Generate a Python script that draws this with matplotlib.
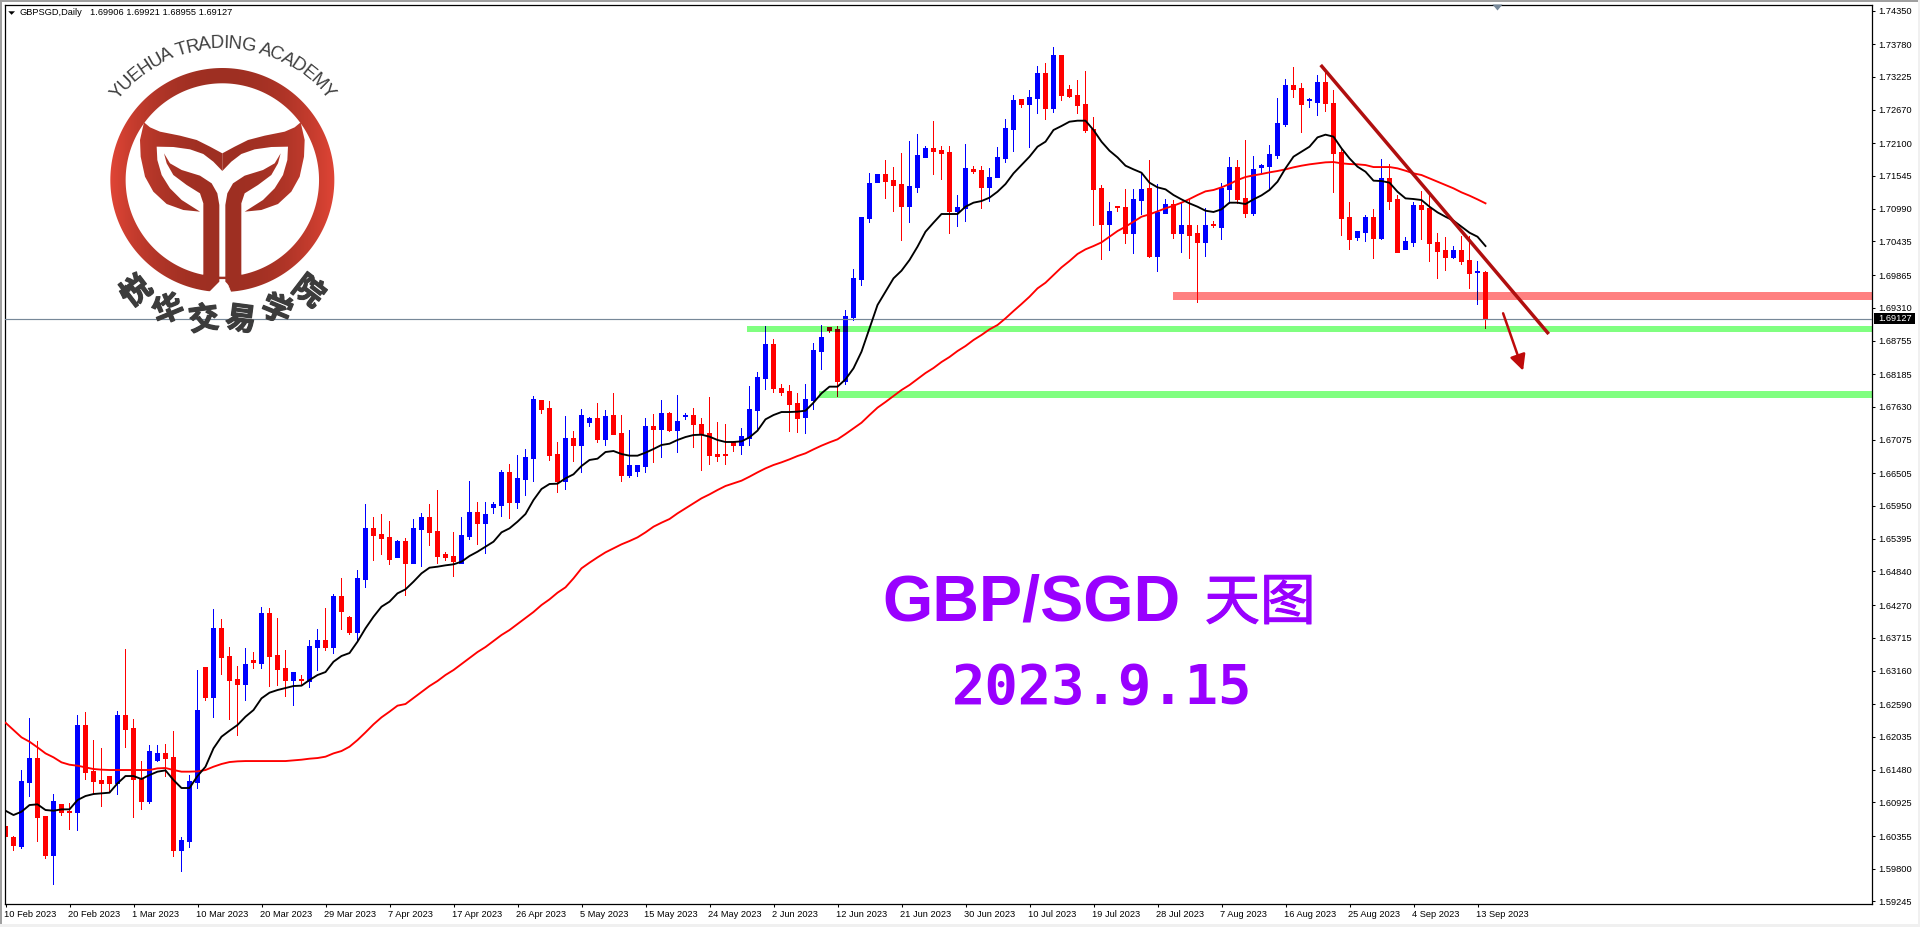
import numpy as np
import matplotlib
matplotlib.use("Agg")
import matplotlib.pyplot as plt
import matplotlib.patheffects as pe
from matplotlib.patches import Polygon, Rectangle
from matplotlib.font_manager import FontProperties, findfont, get_font
from matplotlib.path import Path
from matplotlib.patches import PathPatch

opens = [1.60524,1.60338,1.60185,1.61270,1.61677,1.60694,1.60033,1.60897,1.60779,1.60762,
1.62237,1.61457,1.61304,1.61372,1.61237,1.62406,1.62186,1.61338,1.60948,1.61643,
1.61762,1.61694,1.60118,1.60270,1.61270,1.63220,1.62711,1.63881,1.63390,1.63017,
1.62932,1.63339,1.63288,1.64119,1.63407,1.63203,1.63000,1.63017,1.62983,1.63559,
1.63678,1.63559,1.64424,1.64068,1.63813,1.64712,1.65560,1.65475,1.65424,1.65085,
1.65356,1.64983,1.65543,1.65763,1.65526,1.65136,1.65102,1.64983,1.65441,1.65848,
1.65661,1.65916,1.65950,1.66526,1.66001,1.66407,1.66763,1.67730,1.67611,1.66831,
1.66373,1.67102,1.66967,1.67357,1.67425,1.67085,1.67492,1.67187,1.66475,1.66543,
1.66611,1.67306,1.67255,1.67526,1.67238,1.67475,1.67492,1.67340,1.67187,1.66831,
1.66814,1.67018,1.66967,1.67102,1.67577,1.68103,1.68696,1.67950,1.67899,1.67696,
1.67442,1.67730,1.68577,1.68984,1.68950,1.68052,1.69137,1.69798,1.70832,1.71442,
1.71578,1.71476,1.71408,1.71035,1.71357,1.71866,1.72019,1.71985,1.71951,1.70934,
1.71001,1.71662,1.71646,1.71357,1.71527,1.71849,1.72341,1.72849,1.72764,1.72866,
1.73290,1.72697,1.73595,1.73019,1.72917,1.72748,1.72341,1.71340,1.70730,1.71035,
1.71018,1.70561,1.71137,1.71340,1.70188,1.70917,1.71069,1.70561,1.70713,1.70578,
1.70425,1.70730,1.70679,1.71323,1.71696,1.71171,1.70917,1.71680,1.71713,1.71900,
1.72425,1.73087,1.73036,1.72827,1.72798,1.73137,1.72781,1.71951,1.70849,1.70510,
1.70578,1.70849,1.70493,1.71510,1.71154,1.70306,1.70425,1.71052,1.71001,1.70425,
1.70289,1.70171,1.70289,1.70120,1.69910,1.69906]
highs = [1.60965,1.60355,1.61463,1.62355,1.61960,1.60694,1.61067,1.60897,1.60914,1.62406,
1.62457,1.61982,1.61847,1.61372,1.62474,1.63525,1.62338,1.61626,1.61898,1.61898,
1.61915,1.62135,1.60338,1.61389,1.63169,1.63220,1.64203,1.64034,1.63559,1.63237,
1.63542,1.63474,1.64237,1.64220,1.64051,1.63508,1.63135,1.63084,1.63678,1.63864,
1.64220,1.64458,1.64729,1.64085,1.64864,1.65967,1.65763,1.65814,1.65695,1.65373,
1.65407,1.65729,1.65831,1.65967,1.66221,1.65170,1.65509,1.65763,1.66373,1.66001,
1.66017,1.66017,1.66560,1.66645,1.66814,1.66916,1.67798,1.67730,1.67713,1.67018,
1.67475,1.67221,1.67594,1.67442,1.67696,1.67577,1.67865,1.67492,1.67238,1.66628,
1.67425,1.67509,1.67730,1.67543,1.67815,1.67526,1.67611,1.67425,1.67781,1.67357,
1.67340,1.67035,1.67272,1.67984,1.68221,1.69001,1.68781,1.68018,1.68001,1.67865,
1.68018,1.68713,1.69018,1.68984,1.69001,1.69256,1.69967,1.70849,1.71595,1.71578,
1.71815,1.71696,1.71934,1.72137,1.72256,1.72052,1.72476,1.72052,1.72052,1.71222,
1.72086,1.71713,1.71713,1.71679,1.72035,1.72510,1.72917,1.72849,1.73002,1.73409,
1.73460,1.73731,1.73595,1.73087,1.73171,1.73324,1.72544,1.71391,1.71103,1.71035,
1.71307,1.71323,1.71595,1.71815,1.71408,1.71154,1.71137,1.71086,1.71137,1.70713,
1.71001,1.70781,1.71425,1.71866,1.71815,1.72154,1.71883,1.71747,1.72069,1.72866,
1.73188,1.73392,1.73104,1.72866,1.73256,1.73307,1.73002,1.72002,1.71103,1.70611,
1.70883,1.70984,1.71832,1.71747,1.71222,1.70510,1.71103,1.71290,1.71239,1.70578,
1.70510,1.70357,1.70527,1.70527,1.70103,1.69921]
lows = [1.60061,1.60118,1.60140,1.61033,1.60270,1.59971,1.59541,1.60711,1.60474,1.60457,
1.61321,1.61067,1.60847,1.61101,1.61067,1.61864,1.60677,1.60813,1.60914,1.61626,
1.61372,1.60016,1.59762,1.60152,1.61169,1.62644,1.62372,1.63101,1.62322,1.62067,
1.62644,1.63203,1.63203,1.62898,1.62915,1.62728,1.62576,1.62932,1.62881,1.63169,
1.63508,1.63457,1.63864,1.63779,1.63678,1.64560,1.65034,1.65136,1.64966,1.65085,
1.64441,1.64983,1.64916,1.65272,1.64983,1.65034,1.64763,1.64983,1.65390,1.65289,
1.65153,1.65831,1.65780,1.65746,1.65899,1.66136,1.66357,1.67526,1.66713,1.66187,
1.66238,1.66696,1.66526,1.67306,1.67018,1.66967,1.67170,1.66373,1.66441,1.66458,
1.66526,1.66679,1.66780,1.67221,1.66865,1.67408,1.66950,1.66560,1.66645,1.66696,
1.66645,1.66882,1.66831,1.66967,1.67238,1.67933,1.67882,1.67815,1.67221,1.67204,
1.67187,1.67594,1.68272,1.68883,1.67798,1.68018,1.69103,1.69696,1.70764,1.71442,
1.71171,1.70934,1.70459,1.70764,1.71273,1.71866,1.71578,1.71493,1.70561,1.70696,
1.70781,1.71595,1.71001,1.71120,1.71527,1.71781,1.71968,1.72714,1.72019,1.72612,
1.72510,1.72629,1.72832,1.72883,1.72612,1.72290,1.70713,1.70137,1.70289,1.70950,
1.70408,1.70238,1.70900,1.70171,1.69933,1.70917,1.70493,1.70255,1.70154,1.69408,
1.70188,1.70679,1.70476,1.71086,1.71086,1.70849,1.70883,1.71612,1.71307,1.71849,
1.72375,1.72883,1.72290,1.72714,1.72578,1.72646,1.71273,1.70544,1.70306,1.70459,
1.70442,1.70154,1.70476,1.70968,1.70255,1.70306,1.70357,1.70476,1.70103,1.69815,
1.69950,1.70154,1.70052,1.69645,1.69374,1.68955]
closes = [1.60344,1.60202,1.61287,1.61677,1.60677,1.60033,1.60948,1.60762,1.60762,1.62237,
1.61440,1.61287,1.61237,1.61237,1.62406,1.62169,1.61321,1.60948,1.61796,1.61762,
1.61677,1.60118,1.60287,1.61287,1.62491,1.62711,1.63881,1.63373,1.63000,1.62932,
1.63271,1.63305,1.64119,1.63390,1.63186,1.63000,1.63135,1.63000,1.63576,1.63678,
1.63559,1.64424,1.64169,1.63813,1.64729,1.65560,1.65458,1.65407,1.65051,1.65356,
1.64983,1.65560,1.65763,1.65509,1.65102,1.65085,1.65017,1.65458,1.65848,1.65661,
1.65814,1.65967,1.66526,1.66001,1.66424,1.66780,1.67747,1.67594,1.66814,1.66373,
1.67102,1.66967,1.67492,1.67425,1.67085,1.67475,1.67170,1.66475,1.66628,1.66628,
1.67306,1.67255,1.67526,1.67238,1.67374,1.67481,1.67323,1.67170,1.66814,1.66797,
1.66803,1.66967,1.67136,1.67594,1.68120,1.68696,1.67950,1.67882,1.67679,1.67425,
1.67747,1.68594,1.68798,1.68933,1.68052,1.69154,1.69815,1.70849,1.71425,1.71578,
1.71459,1.71391,1.71035,1.71374,1.71900,1.72019,1.71968,1.71934,1.70934,1.71018,
1.71679,1.71629,1.71357,1.71527,1.71866,1.72358,1.72832,1.72764,1.72883,1.73290,
1.72697,1.73595,1.72917,1.72900,1.72731,1.72324,1.71323,1.70730,1.70950,1.71018,
1.70561,1.71154,1.71323,1.70188,1.70934,1.71069,1.70561,1.70713,1.70544,1.70425,
1.70713,1.70707,1.71340,1.71696,1.71154,1.70917,1.71662,1.71730,1.71917,1.72442,
1.73087,1.73019,1.72748,1.72832,1.73137,1.72765,1.71934,1.70832,1.70476,1.70595,
1.70849,1.70493,1.71510,1.71120,1.70255,1.70442,1.71052,1.70984,1.70408,1.70272,
1.70171,1.70289,1.70103,1.69899,1.69916,1.69127]

ma_black = [1.60784,1.60711,1.60767,1.60880,1.60892,1.60796,1.60784,1.60807,1.60807,1.60965,
1.61033,1.61067,1.61078,1.61090,1.61248,1.61372,1.61372,1.61321,1.61389,1.61446,
1.61468,1.61304,1.61169,1.61169,1.61372,1.61530,1.61841,1.62039,1.62141,1.62237,
1.62378,1.62491,1.62689,1.62785,1.62830,1.62864,1.62898,1.62904,1.63000,1.63084,
1.63135,1.63310,1.63407,1.63457,1.63650,1.63876,1.64073,1.64243,1.64328,1.64469,
1.64537,1.64667,1.64808,1.64904,1.64921,1.64944,1.64961,1.65006,1.65102,1.65175,
1.65260,1.65345,1.65503,1.65571,1.65684,1.65814,1.66051,1.66238,1.66323,1.66328,
1.66419,1.66487,1.66628,1.66730,1.66752,1.66865,1.66882,1.66831,1.66803,1.66803,
1.66854,1.66916,1.66984,1.67006,1.67069,1.67119,1.67153,1.67159,1.67125,1.67069,
1.67035,1.67035,1.67046,1.67114,1.67227,1.67419,1.67492,1.67543,1.67543,1.67549,
1.67566,1.67701,1.67860,1.67973,1.67973,1.68097,1.68284,1.68566,1.68962,1.69357,
1.69583,1.69809,1.69939,1.70120,1.70346,1.70600,1.70753,1.70900,1.70900,1.70900,
1.71024,1.71092,1.71120,1.71177,1.71278,1.71408,1.71589,1.71730,1.71872,1.72041,
1.72126,1.72324,1.72392,1.72465,1.72482,1.72482,1.72324,1.72126,1.71973,1.71860,
1.71719,1.71657,1.71600,1.71431,1.71352,1.71318,1.71222,1.71148,1.71080,1.71024,
1.70956,1.70934,1.70979,1.71092,1.71092,1.71069,1.71148,1.71216,1.71307,1.71448,
1.71674,1.71872,1.71956,1.72041,1.72199,1.72245,1.72211,1.72013,1.71843,1.71702,
1.71617,1.71465,1.71459,1.71431,1.71278,1.71165,1.71154,1.71137,1.71024,1.70928,
1.70854,1.70787,1.70685,1.70583,1.70515,1.70357]

ma_red = [1.62276,1.62152,1.62028,1.61954,1.61858,1.61756,1.61689,1.61604,1.61564,1.61547,
1.61519,1.61491,1.61480,1.61474,1.61474,1.61474,1.61474,1.61474,1.61474,1.61502,
1.61508,1.61474,1.61446,1.61446,1.61451,1.61474,1.61530,1.61576,1.61609,1.61621,
1.61626,1.61626,1.61626,1.61626,1.61626,1.61626,1.61638,1.61649,1.61666,1.61677,
1.61700,1.61756,1.61796,1.61869,1.61982,1.62112,1.62248,1.62367,1.62463,1.62565,
1.62593,1.62695,1.62796,1.62898,1.62983,1.63085,1.63169,1.63271,1.63373,1.63474,
1.63559,1.63661,1.63763,1.63847,1.63949,1.64051,1.64153,1.64271,1.64367,1.64480,
1.64571,1.64723,1.64893,1.64989,1.65079,1.65164,1.65232,1.65300,1.65356,1.65418,
1.65503,1.65599,1.65667,1.65729,1.65825,1.65910,1.65995,1.66080,1.66147,1.66221,
1.66289,1.66334,1.66379,1.66447,1.66520,1.66588,1.66645,1.66690,1.66741,1.66797,
1.66843,1.66910,1.66973,1.67029,1.67080,1.67170,1.67266,1.67362,1.67492,1.67617,
1.67713,1.67814,1.67916,1.68001,1.68103,1.68204,1.68289,1.68391,1.68476,1.68577,
1.68662,1.68764,1.68849,1.68944,1.69018,1.69131,1.69255,1.69374,1.69498,1.69639,
1.69735,1.69865,1.69995,1.70103,1.70222,1.70301,1.70357,1.70419,1.70515,1.70611,
1.70685,1.70770,1.70854,1.70894,1.70945,1.70996,1.71041,1.71092,1.71154,1.71222,
1.71284,1.71307,1.71352,1.71408,1.71476,1.71527,1.71555,1.71578,1.71606,1.71629,
1.71657,1.71691,1.71719,1.71742,1.71759,1.71776,1.71781,1.71759,1.71747,1.71742,
1.71730,1.71696,1.71696,1.71696,1.71674,1.71634,1.71589,1.71561,1.71504,1.71448,
1.71391,1.71335,1.71267,1.71211,1.71148,1.71081]

price_ticks = [1.74350,1.73780,1.73225,1.72670,1.72100,1.71545,1.70990,1.70435,1.69865,1.69310,
1.68755,1.68185,1.67630,1.67075,1.66505,1.65950,1.65395,1.64840,1.64270,1.63715,
1.63160,1.62590,1.62035,1.61480,1.60925,1.60355,1.59800,1.59245]
date_labels = ["10 Feb 2023","20 Feb 2023","1 Mar 2023","10 Mar 2023","20 Mar 2023","29 Mar 2023",
"7 Apr 2023","17 Apr 2023","26 Apr 2023","5 May 2023","15 May 2023","24 May 2023","2 Jun 2023",
"12 Jun 2023","21 Jun 2023","30 Jun 2023","10 Jul 2023","19 Jul 2023","28 Jul 2023","7 Aug 2023",
"16 Aug 2023","25 Aug 2023","4 Sep 2023","13 Sep 2023"]
date_index = list(range(0, 185, 8))
last_price = 1.69127
# level zones: start candle, lower price, upper price, colour
zone_starts = [92.7, 101.7, 145.9]
zone_lows = [1.68900, 1.67781, 1.69442]
zone_highs = [1.68998, 1.67899, 1.69578]
zone_colors = ["#80FF80", "#80FF80", "#FF8080"]
trend_x = [164.4, 192.9]
trend_y = [1.73426, 1.68866]
arrow_x = [187.2, 189.7]
arrow_y = [1.69217, 1.68244]

W, H = 1920, 927
plt.rcParams["font.family"] = ["Liberation Sans", "DejaVu Sans"]
fig = plt.figure(figsize=(W/100, H/100), dpi=100, facecolor="white")
L, R, T, B = 4.5, 1872.0, 4.5, 904.0
ax = fig.add_axes([L/W, 1-B/H, (R-L)/W, (B-T)/H])
PX = 1/5898.7
ax.set_xlim((L-5.5)/8, (R-5.5)/8)
ax.set_ylim(1.7435-(B-10.5)*PX, 1.7435-(T-10.5)*PX)
for s in ax.spines.values():
    s.set_linewidth(0.9); s.set_color("black")

o, h, l, c = map(np.array, (opens, highs, lows, closes))
x = np.arange(len(o))
up = c >= o
top = np.maximum(o, c); bot = np.minimum(o, c)
body = np.maximum(top-bot, PX)
BLUE = np.array([0, 0, 1.0]); RED = np.array([1.0, 0, 0])
cols = np.where(up[:, None], BLUE[None, :], RED[None, :])

def wicks(xs, lo, hi, colors, z):
    lc = ax.vlines(xs, lo, hi, colors=colors, lw=0.72, zorder=z, antialiased=False)
    lc.set_snap(False)

def bodies(xs, hgt, base, colors, z):
    for p in ax.bar(xs, hgt, bottom=base, width=5/8, color=colors, lw=0, zorder=z, antialiased=False):
        p.set_snap(False)

for st, lo, hi, col in zip(zone_starts, zone_lows, zone_highs, zone_colors):
    ax.add_patch(Rectangle((st, lo), 400, hi-lo, fc=col, ec="none", zorder=1))
wicks(x, l, h, cols, 2)
bodies(x, body, bot, cols, 2.1)
# candles show through the zones darkened, as in the terminal's blending
for st, lo, hi, col in zip(zone_starts, zone_lows, zone_highs, zone_colors):
    mul = np.array(matplotlib.colors.to_rgb(col))
    m = x >= st
    wick = m & (h > lo) & (l < hi)
    wicks(x[wick], np.maximum(l[wick], lo), np.minimum(h[wick], hi), cols[wick]*mul, 2.5)
    bm = m & (top > lo) & (bot < hi)
    b0 = np.maximum(bot[bm], lo); b1 = np.minimum(top[bm], hi)
    bodies(x[bm], b1-b0, b0, cols[bm]*mul, 2.6)

ax.axhline(last_price, color="#778899", lw=0.85, zorder=2.8)
ax.plot(x, ma_red, color="#FF0000", lw=1.35, zorder=4, solid_joinstyle="round")
ax.plot(x, ma_black, color="#000000", lw=1.35, zorder=4.1, solid_joinstyle="round")
ax.plot(trend_x, trend_y, color="#B00F0F", lw=2.5, zorder=5, solid_capstyle="butt")
ax.annotate("", xy=(arrow_x[1], arrow_y[1]), xytext=(arrow_x[0], arrow_y[0]), zorder=5,
            arrowprops=dict(arrowstyle="-|>,head_length=1.0,head_width=0.5", color="#BE0A0A", lw=1.8,
                            shrinkA=0, shrinkB=0, mutation_scale=9.5))

ax.set_xticks(date_index)
ax.set_xticklabels(date_labels, ha="left", fontsize=6.7, color="black")
ax.set_yticks(price_ticks)
ax.set_yticklabels([f"{p:.5f}" for p in price_ticks], fontsize=6.7, color="black")
ax.tick_params(axis="x", length=2.4, width=0.75, pad=1.6, color="black")
ax.tick_params(axis="y", length=2.4, width=0.75, pad=2.2, right=True, left=False, labelright=True, labelleft=False, color="black")
shift = matplotlib.transforms.ScaledTranslation(-1/100, 0, fig.dpi_scale_trans)
for t in ax.get_xticklabels():
    t.set_transform(t.get_transform()+shift)

# overlay in figure pixels for window furniture, captions and the logo
ov = fig.add_axes([0, 0, 1, 1], zorder=10)
ov.patch.set_alpha(0)
ov.axis("off")

def pts(seq):
    return np.array(seq, float)/3

CX, CY = 667/3, 540/3
grad_c = np.array(matplotlib.colors.to_rgb("#9E2F22"))
grad_e = np.array(matplotlib.colors.to_rgb("#E04536"))
t = np.abs(np.linspace(-1, 1, 256))[None, :, None]**2.2
grad = (1-t)*grad_c+t*grad_e

def painted(path):
    im = ov.imshow(grad, extent=(110, 334.5, 292, 68), aspect="auto", zorder=3, interpolation="bilinear")
    im.set_clip_path(PathPatch(path, transform=ov.transData))

th = np.linspace(0, 2*np.pi, 241)
outer = np.c_[CX+112*np.cos(th), CY+112*np.sin(th)]
inner = np.c_[CX+96.7*np.cos(th), CY+96.7*np.sin(th)][::-1]
verts = np.vstack([outer, inner])
codes = np.r_[[Path.MOVETO], [Path.LINETO]*240, [Path.MOVETO], [Path.LINETO]*240]
painted(Path(verts, codes))

gap = [(658,838),(630,873),(630,905),(704,905),(677,838)]
ov.add_patch(Polygon(pts(gap), fc="white", ec="white", lw=0.5, zorder=3.2))
tail = [(432,367),(450,382),(480,395),(540,407),(590,420),(630,440),(667,460),(667,513),(640,485),
        (610,462),(570,448),(520,441),(470,440),(472,480),(485,525),(510,565),(545,600),(600,635),
        (550,630),(500,612),(460,575),(435,530),(422,470),(420,420)]
stem = [(492,460),(510,490),(545,510),(600,527),(635,550),(652,580),(658,615),(658,845),(630,873),
        (600,865),(610,822),(610,610),(600,580),(560,555),(520,525),(500,490)]
for shape in (tail, stem):
    a = pts(shape)
    b = a.copy(); b[:, 0] = 2*CX-b[:, 0]
    for poly in (a, b):
        im = ov.imshow(grad, extent=(110, 334.5, 292, 68), aspect="auto", zorder=3.4, interpolation="bilinear")
        im.set_clip_path(Polygon(poly, transform=ov.transData))

arc_text = "YUEHUA TRADING ACADEMY"
arc_fp = FontProperties(family="Liberation Sans")
ft = get_font(findfont(arc_fp))
ft.set_size(13.4, 100)
def wid(s):
    ft.set_text(s+"|", 0.0)
    w1 = ft.get_width_height()[0]
    ft.set_text("|", 0.0)
    return (w1-ft.get_width_height()[0])/64
total = wid(arc_text)
for k, ch in enumerate(arc_text):
    mid = (wid(arc_text[:k])+wid(arc_text[:k+1]))/2
    ang = -52.5+105*mid/total
    a = np.radians(ang)
    ov.text(CX+136.5*np.sin(a), CY-136.5*np.cos(a), ch, fontsize=13.4, color="#3E3E3E", rotation=-ang,
            rotation_mode="anchor", ha="center", va="center", zorder=6)

for ang, ch in zip([-37.5, -22.5, -7.5, 7.5, 22.5, 37.5], "悦华交易学院"):
    a = np.radians(ang)
    ov.text(CX+141*np.sin(a), CY+141*np.cos(a), ch, fontsize=22, color="#3C3C3C", rotation=-ang,
            rotation_mode="anchor", ha="center", va="center", zorder=6, fontweight="bold",
            family=["Noto Sans CJK SC", "DejaVu Sans"],
            path_effects=[pe.withStroke(linewidth=0.9, foreground="#3C3C3C")])

ov.text(882, 621, "GBP/SGD", fontsize=46.5, fontweight="bold", color="#9900FF", ha="left", va="baseline",
        family="Liberation Sans", zorder=6)
ov.text(1260, 619.5, "天图", fontsize=40, color="#9900FF", ha="center", va="baseline",
        family=["Noto Sans CJK SC", "DejaVu Sans"], zorder=6,
        path_effects=[pe.withStroke(linewidth=0.8, foreground="#9900FF")])
ov.text(1102, 704, "2023.9.15", fontsize=40, fontweight="bold", color="#9900FF", ha="center", va="baseline",
        family="DejaVu Sans Mono", zorder=6)

ov.add_patch(Polygon([(8.3, 11.3), (15, 11.3), (11.6, 14.8)], fc="black", ec="none", zorder=6))
ov.text(20, 12.7, "GBPSGD,Daily", fontsize=6.7, color="black", ha="left", va="center", zorder=6)
ov.text(90, 12.7, "1.69906 1.69921 1.68955 1.69127", fontsize=6.7, color="black", ha="left", va="center", zorder=6)
ov.add_patch(Polygon([(1492.5, 4.5), (1502.5, 4.5), (1497.5, 10.5)], fc="#778899", ec="none", zorder=6))
ov.add_patch(Rectangle((1874, 313.3), 41, 10.7, fc="black", ec="none", zorder=6))
ov.text(1878.3, 318.6, f"{last_price:.5f}", fontsize=6.7, color="white", ha="left", va="center", zorder=7)

ov.add_patch(Rectangle((0, 0), W, 1.5, fc="#A0A0A0", ec="none", zorder=1))
ov.add_patch(Rectangle((0, 0), 1.5, H, fc="#A0A0A0", ec="none", zorder=1))
ov.add_patch(Rectangle((0, 924), W, 3, fc="#F0F0F0", ec="none", zorder=1))
ov.add_patch(Rectangle((1918, 0), 2, H, fc="#F0F0F0", ec="none", zorder=1))

ov.set_xlim(0, W); ov.set_ylim(H, 0)
fig.savefig("out.png", dpi=100, facecolor="white")
